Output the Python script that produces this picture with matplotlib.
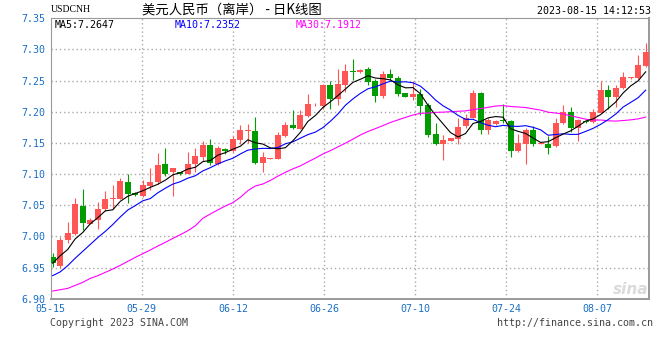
import matplotlib
matplotlib.use("Agg")
import matplotlib.pyplot as plt
import numpy as np

# ---------------- data ----------------
opens = [6.9677, 6.953, 6.994, 7.0037, 7.0484, 7.0205, 7.0269, 7.0436, 7.0600, 7.0607,
         7.0877, 7.070, 7.0645, 7.0815, 7.0873, 7.1156, 7.1033, 7.1028, 7.1007, 7.1156,
         7.1274, 7.146, 7.1156, 7.1396, 7.137, 7.154, 7.169, 7.169, 7.1183, 7.1245,
         7.1242, 7.161, 7.1786, 7.1722, 7.193, 7.2105, 7.2095, 7.2425, 7.2212, 7.2425,
         7.2650, 7.2637, 7.2689, 7.249, 7.2258, 7.26, 7.2547, 7.2295, 7.2242, 7.2279,
         7.2111, 7.1637, 7.149, 7.1534, 7.156, 7.1767, 7.1907, 7.2295, 7.17, 7.1808,
         7.187, 7.1855, 7.1363, 7.1482, 7.17, 7.148, 7.1482, 7.1457, 7.1815, 7.1989,
         7.1746, 7.1852, 7.1831, 7.1984, 7.2342, 7.2237, 7.2379, 7.2537, 7.2537, 7.2737]
highs = [6.9735, 6.999, 7.0225, 7.061, 7.076, 7.029, 7.0548, 7.0725, 7.0821, 7.0936,
         7.100, 7.071, 7.0909, 7.1092, 7.1343, 7.1413, 7.1095, 7.1039, 7.1359, 7.1413,
         7.153, 7.1557, 7.145, 7.1423, 7.161, 7.1786, 7.1797, 7.1914, 7.136, 7.1258,
         7.168, 7.184, 7.2026, 7.2026, 7.2281, 7.2143, 7.2452, 7.249, 7.2692, 7.2761,
         7.2847, 7.269, 7.2726, 7.2521, 7.2653, 7.269, 7.2574, 7.2295, 7.249, 7.2358,
         7.2137, 7.1821, 7.1622, 7.158, 7.1907, 7.1959, 7.2347, 7.231, 7.1907, 7.187,
         7.213, 7.187, 7.1648, 7.174, 7.1767, 7.150, 7.161, 7.1904, 7.2115, 7.2078,
         7.1883, 7.1868, 7.2052, 7.250, 7.2431, 7.2431, 7.2632, 7.256, 7.2911, 7.3106]
lows = [6.951, 6.950, 6.989, 7.0016, 7.0096, 7.0195, 7.0118, 7.0404, 7.0436, 7.0596,
        7.0543, 7.0645, 7.063, 7.074, 7.0847, 7.0975, 7.0649, 7.0986, 7.0996, 7.1039,
        7.121, 7.1146, 7.1146, 7.133, 7.136, 7.1477, 7.150, 7.1168, 7.1029, 7.1238,
        7.1242, 7.160, 7.172, 7.172, 7.192, 7.2095, 7.2052, 7.2041, 7.2106, 7.2319,
        7.2505, 7.2626, 7.2426, 7.2163, 7.2216, 7.2505, 7.2258, 7.2242, 7.219, 7.1953,
        7.1595, 7.1469, 7.1227, 7.153, 7.1482, 7.174, 7.190, 7.1648, 7.1637, 7.1793,
        7.182, 7.1275, 7.1353, 7.116, 7.1446, 7.148, 7.133, 7.143, 7.180, 7.1683,
        7.1536, 7.1815, 7.1815, 7.1979, 7.2042, 7.2078, 7.2368, 7.253, 7.2526, 7.2721]
closes = [6.957, 6.995, 7.006, 7.0516, 7.0216, 7.0269, 7.0436, 7.0607, 7.0607, 7.0893,
          7.0679, 7.066, 7.0823, 7.0879, 7.114, 7.1007, 7.1092, 7.0997, 7.1167, 7.1284,
          7.146, 7.1183, 7.1423, 7.137, 7.1557, 7.170, 7.170, 7.1183, 7.1269, 7.125,
          7.1626, 7.1786, 7.1743, 7.1946, 7.2122, 7.211, 7.2425, 7.2202, 7.2441, 7.2649,
          7.2645, 7.2674, 7.2479, 7.2258, 7.26, 7.2542, 7.2279, 7.2242, 7.2279, 7.210,
          7.1622, 7.149, 7.1543, 7.1575, 7.1751, 7.1896, 7.2295, 7.17, 7.187, 7.1855,
          7.1845, 7.1363, 7.1498, 7.17, 7.1482, 7.1498, 7.142, 7.1815, 7.1989, 7.1746,
          7.1868, 7.1831, 7.1989, 7.2342, 7.2237, 7.2379, 7.2563, 7.2553, 7.2753, 7.2958]

ma5 = [6.957, 6.969, 6.979, 6.996, 7.0062, 7.0202, 7.0299, 7.0409, 7.0427, 7.0562,
       7.0644, 7.0689, 7.0732, 7.0787, 7.0836, 7.0902, 7.0988, 7.1023, 7.1081, 7.1109,
       7.1200, 7.1218, 7.1303, 7.1344, 7.1399, 7.1447, 7.1550, 7.1502, 7.1482, 7.1420,
       7.1406, 7.1423, 7.1535, 7.1670, 7.1845, 7.1941, 7.2069, 7.2161, 7.2260, 7.2365,
       7.2472, 7.2522, 7.2578, 7.2541, 7.2531, 7.2511, 7.2432, 7.2384, 7.2388, 7.2288,
       7.2104, 7.1947, 7.1807, 7.1666, 7.1596, 7.1651, 7.1812, 7.1843, 7.1902, 7.1923,
       7.1913, 7.1727, 7.1686, 7.1652, 7.1578, 7.1508, 7.1520, 7.1583, 7.1641, 7.1694,
       7.1768, 7.1850, 7.1885, 7.1955, 7.2053, 7.2156, 7.2302, 7.2415, 7.2497, 7.2641]
ma10 = [6.937, 6.943, 6.953, 6.965, 6.976, 6.987, 6.998, 7.008, 7.019, 7.0312,
        7.0423, 7.0494, 7.0571, 7.0607, 7.0699, 7.0773, 7.0839, 7.0878, 7.0934, 7.0973,
        7.1051, 7.1103, 7.1163, 7.1212, 7.1254, 7.1323, 7.1384, 7.1403, 7.1413, 7.1410,
        7.1426, 7.1486, 7.1518, 7.1576, 7.1633, 7.1674, 7.1746, 7.1848, 7.1965, 7.2105,
        7.2207, 7.2296, 7.2369, 7.2401, 7.2448, 7.2492, 7.2477, 7.2481, 7.2465, 7.2410,
        7.2308, 7.2189, 7.2096, 7.2027, 7.1942, 7.1878, 7.1879, 7.1825, 7.1784, 7.1760,
        7.1782, 7.1769, 7.1765, 7.1777, 7.1750, 7.1711, 7.1623, 7.1635, 7.1647, 7.1636,
        7.1638, 7.1685, 7.1734, 7.1798, 7.1874, 7.1962, 7.2076, 7.2150, 7.2226, 7.2347]
ma30 = [6.9123, 6.9144, 6.9166, 6.9214, 6.9262, 6.9326, 6.9369, 6.9422, 6.9476, 6.9535,
        6.9599, 6.9663, 6.9722, 6.9781, 6.9845, 6.9904, 6.9968, 7.0027, 7.0091, 7.0170,
        7.0290, 7.0360, 7.0424, 7.0488, 7.0542, 7.0627, 7.0734, 7.0809, 7.0841, 7.0898,
        7.0967, 7.1028, 7.1084, 7.1132, 7.1195, 7.1257, 7.1323, 7.1376, 7.1437, 7.1496,
        7.1561, 7.1628, 7.1684, 7.1730, 7.1778, 7.1829, 7.1869, 7.1910, 7.1948, 7.1975,
        7.1980, 7.1990, 7.1994, 7.2001, 7.2008, 7.2014, 7.2034, 7.2051, 7.2071, 7.2092,
        7.2099, 7.2085, 7.2077, 7.2068, 7.2047, 7.2027, 7.1993, 7.1980, 7.1965, 7.1935,
        7.1909, 7.1881, 7.1865, 7.1868, 7.1855, 7.1850, 7.1859, 7.1870, 7.1886, 7.1914]

x_tick_labels = ["05-15", "05-29", "06-12", "06-26", "07-10", "07-24", "08-07"]
y_tick_values = [6.90, 6.95, 7.00, 7.05, 7.10, 7.15, 7.20, 7.25, 7.30, 7.35]
y_tick_labels = ["6.90", "6.95", "7.00", "7.05", "7.10", "7.15", "7.20", "7.25", "7.30", "7.35"]

title_text = "美元人民币（离岸） - 日K线图"
symbol_text = "USDCNH"
time_text = "2023-08-15 14:12:53"
legend_texts = ["MA5:7.2647", "MA10:7.2352", "MA30:7.1912"]
copyright_text = "Copyright 2023 SINA.COM"
url_text = "http://finance.sina.com.cn"

# ---------------- style ----------------
W, H = 660, 360
RED = "#ff5555"
GREEN = "#009c00"
TICK_BLUE = "#1a6fc4"
GRID = "#aaaaaa"
FRAME = "#999999"
MONO = "DejaVu Sans Mono"

fig = plt.figure(figsize=(W / 100, H / 100), dpi=100)
fig.patch.set_facecolor("white")

ax_left, ax_right, ax_top, ax_bottom = 50.7, 649.0, 18.3, 298.7
ax = fig.add_axes([ax_left / W, 1 - ax_bottom / H,
                   (ax_right - ax_left) / W, (ax_bottom - ax_top) / H])

n = len(closes)
xs = np.arange(n)
o = np.array(opens); c = np.array(closes)
hi = np.array(highs); lo = np.array(lows)
up = c >= o
colors = np.where(up, RED, GREEN)

# wicks
ax.vlines(xs, lo, hi, colors=colors, linewidth=0.8, zorder=3)
# bodies
body_bottom = np.minimum(o, c)
body_height = np.maximum(np.abs(c - o), 0.0009)
ax.bar(xs, body_height, bottom=body_bottom, width=0.8, color=colors,
       edgecolor="none", linewidth=0, zorder=4)

# moving averages
ax.plot(xs, ma30, color="#ff00ff", linewidth=0.8, zorder=5)
ax.plot(xs, ma10, color="#0000ff", linewidth=0.8, zorder=5)
ax.plot(xs, ma5, color="#000000", linewidth=0.8, zorder=6)

# axes limits
px_per_candle = 7.506
x0 = (ax_left - 52.7) / px_per_candle
x1 = (ax_right - 52.7) / px_per_candle
ax.set_xlim(x0, x1)
ax.set_ylim(y_tick_values[0], y_tick_values[-1])

grid_step = 91.1 / px_per_candle
xticks = [x0 + k * grid_step for k in range(len(x_tick_labels))]
ax.set_xticks(xticks)
ax.set_xticklabels(x_tick_labels, fontsize=7.2, color=TICK_BLUE, family=MONO)
ax.set_yticks(y_tick_values)
ax.set_yticklabels(y_tick_labels, fontsize=7.2, color=TICK_BLUE, family=MONO)
ax.tick_params(axis="both", length=0)
ax.tick_params(axis="x", pad=4)
ax.tick_params(axis="y", pad=4)

for xt in xticks[1:]:
    ax.axvline(xt, color=GRID, linewidth=1.0, linestyle=(0, (1, 2)), zorder=1)
for yt in y_tick_values[1:-1]:
    ax.axhline(yt, color=GRID, linewidth=1.0, linestyle=(0, (1, 2)), zorder=1)

for side, sp in ax.spines.items():
    sp.set_color(FRAME)
ax.spines["left"].set_linewidth(0.8)
ax.spines["top"].set_linewidth(0.8)
ax.spines["bottom"].set_linewidth(1.4)
ax.spines["right"].set_linewidth(1.4)

def ftext(x, y, s, **kw):
    fig.text(x / W, 1 - y / H, s, **kw)

# header
ftext(51, 10, symbol_text, fontsize=7, family="Liberation Serif", color="black",
      ha="left", va="center")
ftext(142, 10, title_text, fontsize=9.6, family=["Noto Sans CJK SC", "DejaVu Sans"],
      color="black", ha="left", va="center")
ftext(651, 11, time_text, fontsize=7.2, family=MONO, color="black",
      ha="right", va="center")

# legend
legend_colors = ["#000000", "#0000ff", "#ff00ff"]
legend_x = [55, 175, 296]
for s, col, lx in zip(legend_texts, legend_colors, legend_x):
    ftext(lx, 25, s, fontsize=7.2, family=MONO, color=col, ha="left", va="center")

# footer
ftext(50, 323, copyright_text, fontsize=7.2, family=MONO, color="#444444",
      ha="left", va="center")
ftext(653, 323, url_text, fontsize=7.2, family=MONO, color="#444444",
      ha="right", va="center")

# watermark
ftext(648, 290, "sina", fontsize=11, family="DejaVu Sans", style="italic",
      weight="bold", color="#dadada", ha="right", va="center", zorder=2)

fig.savefig("out.png", dpi=100, facecolor="white")
